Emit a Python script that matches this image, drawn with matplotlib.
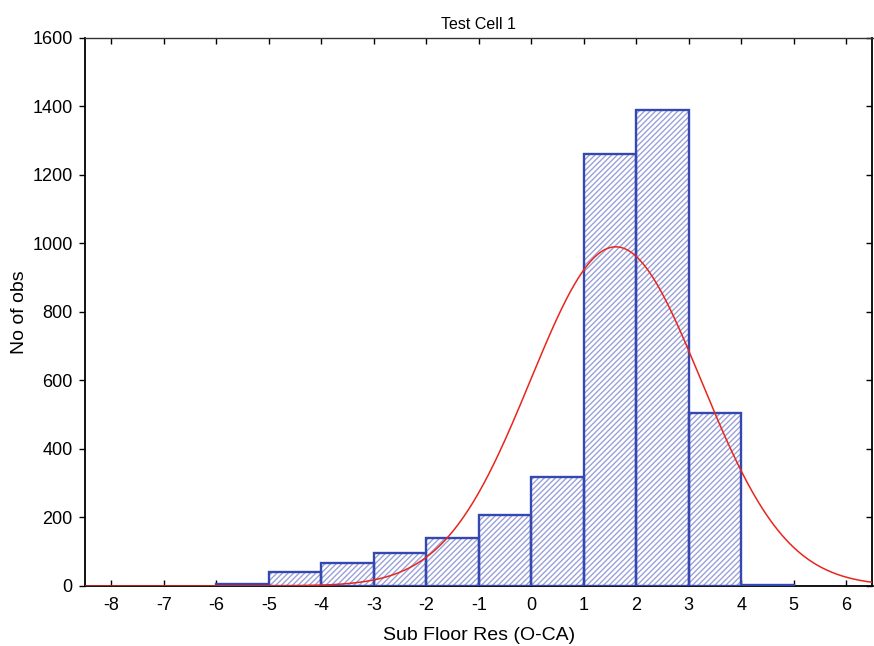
import numpy as np
import matplotlib
matplotlib.use("Agg")
import matplotlib.pyplot as plt
from matplotlib.lines import TICKLEFT

plt.rcParams['font.family'] = ['Liberation Sans', 'DejaVu Sans']
plt.rcParams['hatch.linewidth'] = 1.0

# Histogram of residuals (bin edges are integers, width 1)
bin_left = [-6, -5, -4, -3, -2, -1, 0, 1, 2, 3, 4]
counts = [5, 40, 67, 96, 140, 207, 318, 1260, 1388, 506, 3]

# Fitted normal curve parameters
fit_mean = 1.61
fit_sd = 1.625
fit_total = 4030
bin_width = 1.0

x_ticks = list(range(-8, 7))
y_ticks = [0, 200, 400, 600, 800, 1000, 1200, 1400, 1600]

fig = plt.figure(figsize=(8.74, 6.46), dpi=100)
ax = fig.add_axes([85 / 874, 1 - 586 / 646, (872.5 - 85) / 874, (586 - 37.5) / 646])

# hatched body
ax.bar(bin_left, counts, width=bin_width, align='edge', color='white',
       edgecolor='#9aa2d8', hatch='//////', linewidth=0, zorder=2)
# outlines
ax.bar(bin_left, counts, width=bin_width, align='edge', fill=False,
       edgecolor='#3548b0', linewidth=1.7, zorder=3)

xs = np.linspace(-8.5, 6.5, 600)
ys = fit_total * bin_width / (fit_sd * np.sqrt(2 * np.pi)) * np.exp(-0.5 * ((xs - fit_mean) / fit_sd) ** 2)
ax.plot(xs, ys, color='#e8261c', linewidth=1.1, zorder=4)

ax.set_xlim(-8.5, 6.5)
ax.set_ylim(0, 1600)
ax.set_xticks(x_ticks)
ax.set_xticklabels([str(v) for v in x_ticks])
ax.set_yticks(y_ticks)
ax.set_yticklabels([str(v) for v in y_ticks])

ax.tick_params(axis='x', direction='in', length=4, width=1, labelsize=13, pad=8,
               top=True, bottom=True)
ax.tick_params(axis='y', direction='out', length=4, width=1, labelsize=13, pad=5,
               right=True, left=True)
for t in ax.yaxis.get_ticklines()[1::2]:
    t.set_marker(TICKLEFT)

for side in ['left', 'bottom', 'right']:
    ax.spines[side].set_linewidth(1.3)
    ax.spines[side].set_color('black')
ax.spines['top'].set_linewidth(1.0)
ax.spines['top'].set_color('#333333')

ax.set_title('Test Cell 1', fontsize=11.5, pad=6)
ax.set_xlabel('Sub Floor Res (O-CA)', fontsize=14, labelpad=9)
ax.set_ylabel('No of obs', fontsize=14, labelpad=3)

fig.savefig('out.png', dpi=100)
